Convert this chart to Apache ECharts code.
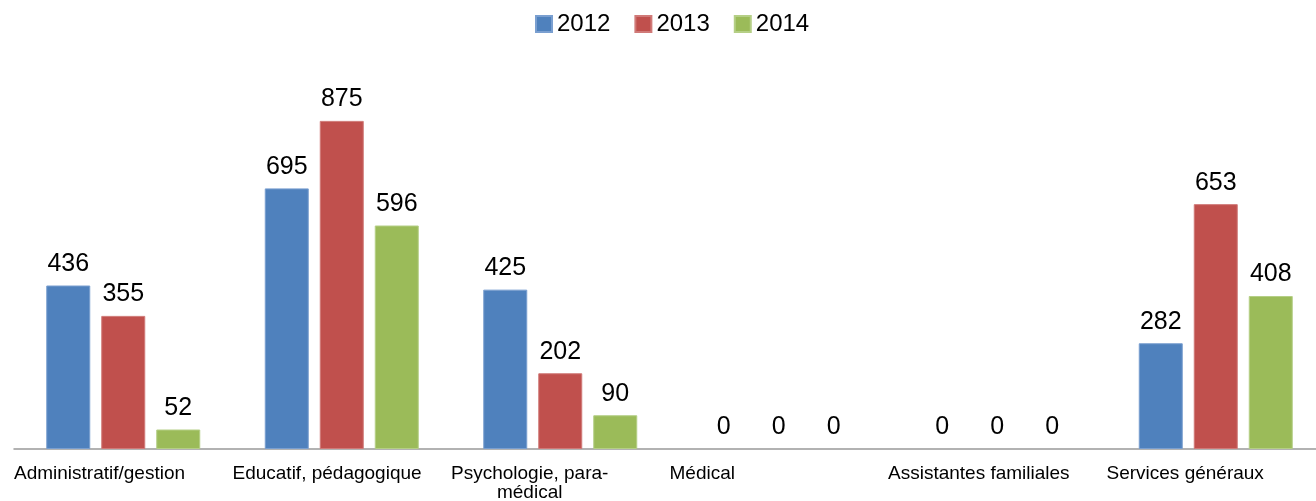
<!DOCTYPE html>
<html>
<head>
<meta charset="utf-8">
<script src="https://cdn.jsdelivr.net/npm/echarts@6/dist/echarts.min.js"></script>
<style>
  html, body { margin: 0; padding: 0; background: #fff; }
  #chart { width: 1316px; height: 501px; }
</style>
</head>
<body>
<div id="chart"></div>
<script>
  // categories (label text as drawn, with its line break)
  var categories = ['Administratif/gestion', 'Educatif, pédagogique', 'Psychologie, para-\nmédical', 'Médical', 'Assistantes familiales', 'Services généraux']
  var years = ['2012', '2013', '2014']
  var values2012 = [436, 695, 425, 0, 0, 282]
  var values2013 = [355, 875, 202, 0, 0, 653]
  var values2014 = [52, 596, 90, 0, 0, 408]

  var font = "'Liberation Sans', Arial, sans-serif"
  var colors = ['#4f81bd', '#c0504d', '#9bbb59']
  var borders = ['#7a9fd0', '#d07a78', '#b5cf86']

  var myChart = echarts.init(document.getElementById('chart'))

  function barSeries(i, data) {
    return {
      name: years[i],
      type: 'bar',
      barWidth: 44,
      barGap: '25%',
      xAxisIndex: 0,
      itemStyle: {
        color: colors[i],
        borderColor: borders[i],
        borderWidth: 1
      },
      label: {
        show: true,
        position: 'top',
        distance: 9,
        color: '#000',
        fontSize: 25,
        fontFamily: font
      },
      // no edge line on empty bars
      data: data.map(function (v) {
        return v === 0 ? { value: v, itemStyle: { borderWidth: 0 } } : v
      })
    }
  }

  var option = {
    animation: false,
    color: colors,
    legend: {
      left: 535,
      top: 12,
      padding: 0,
      itemWidth: 16,
      itemHeight: 16,
      itemGap: 24,
      icon: 'rect',
      textStyle: {
        color: '#000',
        fontSize: 24,
        fontFamily: font
      },
      data: years
    },
    grid: {
      left: 14,
      width: 1311,
      top: 74,
      bottom: 52,
      outerBoundsMode: 'none',
      containLabel: false
    },
    xAxis: [{
      type: 'category',
      position: 'bottom',
      data: categories,
      axisLine: {
        show: true,
        lineStyle: { color: '#999', width: 1.5 }
      },
      axisTick: { show: false },
      axisLabel: { show: false }
    }, {
      // label axis: ticks on category boundaries, text starts at each boundary
      type: 'category',
      position: 'bottom',
      boundaryGap: false,
      data: categories.concat(['']),
      axisLine: { show: false },
      axisTick: { show: false },
      splitLine: { show: false },
      axisLabel: {
        interval: 0,
        align: 'left',
        margin: 15,
        formatter: function (v) {
          if (!v) return ''
          return v.split('\n').map(function (s) { return '{c|' + s + '}' }).join('\n')
        },
        rich: {
          c: {
            align: 'center',
            color: '#000',
            fontSize: 19,
            lineHeight: 19,
            fontFamily: font
          }
        }
      }
    }],
    yAxis: {
      type: 'value',
      show: false,
      min: 0,
      max: 1000
    },
    series: [
      barSeries(0, values2012),
      barSeries(1, values2013),
      barSeries(2, values2014)
    ]
  }

  myChart.setOption(option)
</script>
</body>
</html>
